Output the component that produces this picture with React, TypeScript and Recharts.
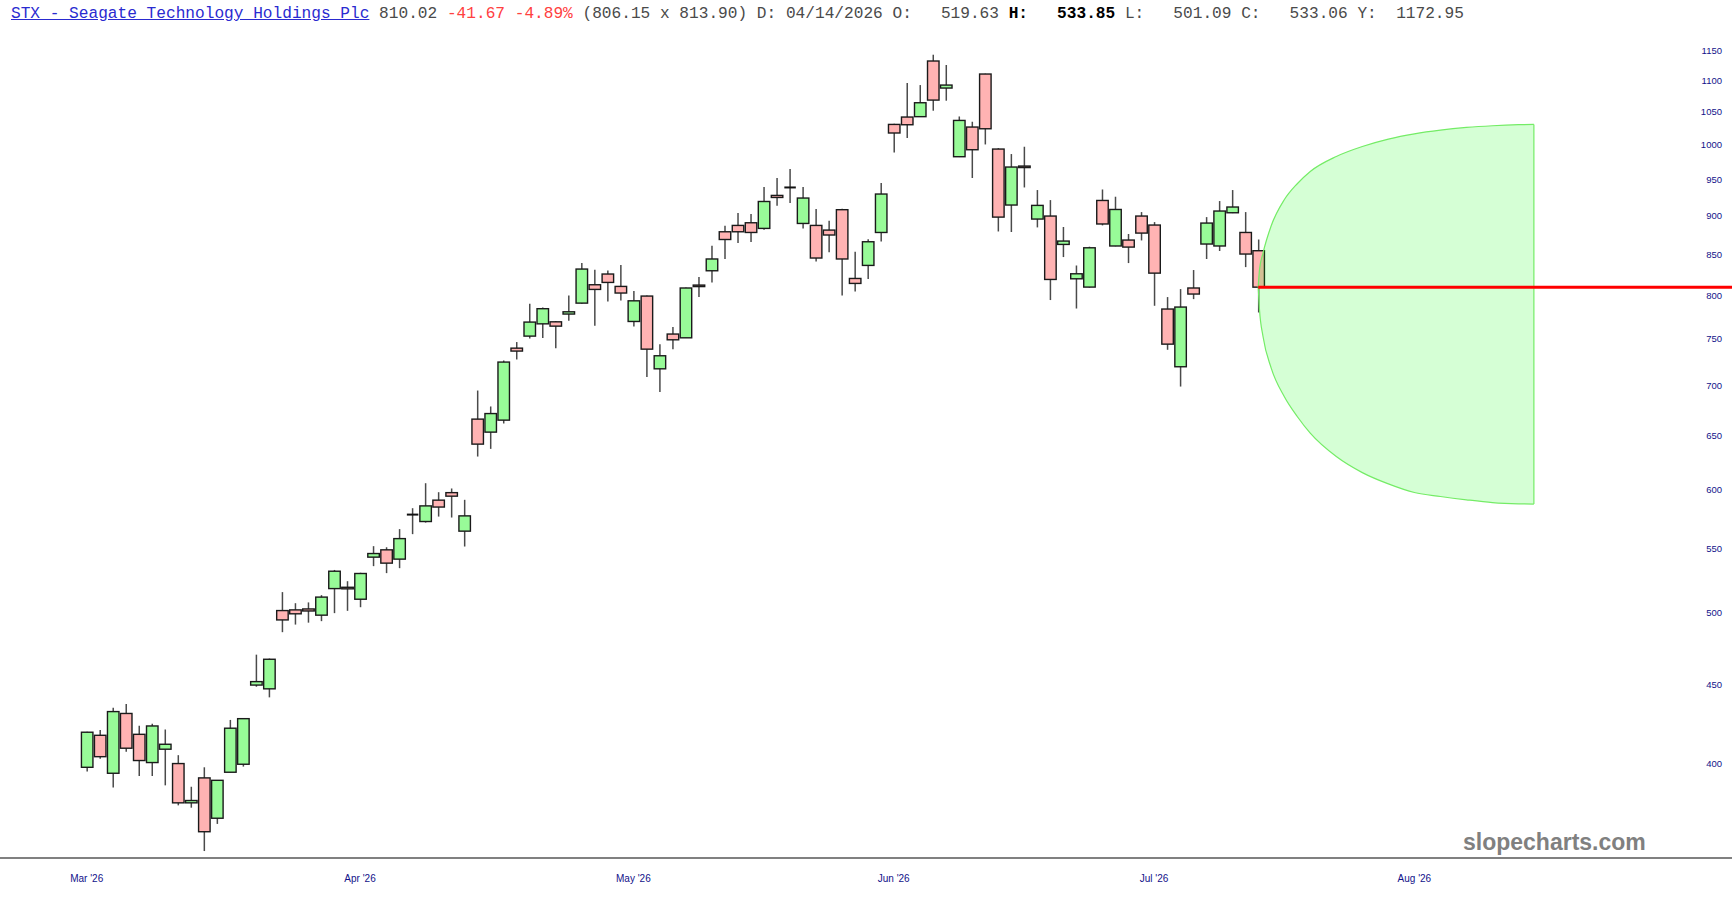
import { ComposedChart, Bar, Area, XAxis, YAxis, ReferenceLine } from "recharts";

// daily candles, Mar '26 .. mid Jul '26 (index = trading day)
const opens = [
  398.0, 417.3, 394.5, 431.0, 417.9, 400.8, 408.8, 400.2, 377.6, 391.8,
  369.1, 395.1, 399.8, 449.5, 447.0, 501.9, 502.4, 503.1, 498.5, 518.5,
  519.5, 510.4, 543.2, 549.1, 541.6, 578.5, 572.6, 591.0, 597.6, 564.5,
  666.3, 653.6, 665.3, 740.1, 753.4, 767.2, 769.5, 778.4, 791.1, 812.9,
  825.9, 810.9, 769.9, 799.4, 717.8, 755.7, 751.5, 812.5, 829.9, 879.2,
  887.5, 891.0, 883.6, 927.8, 938.8, 890.1, 887.5, 881.4, 908.4, 820.5,
  836.5, 878.3, 1030.6, 1041.9, 1042.5, 1132.0, 1087.6, 982.5, 1026.6, 1110.4,
  993.7, 914.7, 969.0, 895.9, 899.9, 862.9, 820.1, 810.1, 920.9, 860.9,
  868.5, 899.9, 888.0, 784.2, 720.0, 809.0, 863.4, 860.9, 904.3, 878.3,
  854.9,
];
const highs = [
  419.5, 420.6, 434.7, 437.1, 423.3, 424.5, 420.9, 405.2, 386.7, 398.0,
  390.6, 426.9, 427.9, 470.2, 467.5, 515.8, 507.4, 508.0, 513.5, 533.0,
  524.2, 530.8, 552.1, 551.2, 566.2, 584.0, 606.0, 598.0, 601.3, 591.3,
  695.1, 678.9, 726.7, 746.8, 790.3, 786.0, 770.5, 800.1, 839.4, 831.2,
  830.3, 837.0, 805.4, 800.0, 744.5, 763.5, 809.5, 822.2, 861.2, 887.1,
  903.9, 902.6, 939.3, 952.0, 964.7, 939.3, 909.3, 893.7, 909.8, 853.6,
  869.5, 945.0, 1031.5, 1095.7, 1092.4, 1142.6, 1125.3, 1042.8, 1034.7, 1111.0,
  995.0, 986.4, 997.1, 935.2, 921.4, 885.4, 836.4, 860.0, 936.0, 926.0,
  876.3, 905.2, 891.9, 798.2, 807.7, 830.8, 898.5, 920.1, 935.2, 905.2,
  869.2,
];
const lows = [
  395.5, 403.1, 386.3, 407.3, 392.9, 392.9, 387.5, 376.2, 374.9, 351.6,
  366.0, 395.1, 398.4, 448.4, 441.4, 486.1, 491.6, 493.0, 494.1, 500.0,
  501.7, 504.4, 536.0, 530.5, 534.4, 562.0, 571.7, 576.8, 576.0, 551.8,
  630.4, 637.6, 662.0, 727.8, 750.8, 751.2, 740.1, 770.6, 790.3, 765.0,
  793.0, 794.2, 764.2, 709.1, 693.5, 739.0, 751.5, 798.2, 815.7, 844.5,
  864.6, 865.9, 881.8, 913.7, 917.3, 883.6, 841.5, 852.8, 800.1, 804.9,
  819.7, 866.7, 988.8, 1010.1, 1042.0, 1051.7, 1067.4, 982.0, 952.0, 1000.5,
  879.6, 878.9, 938.8, 884.9, 794.7, 846.9, 784.8, 809.5, 887.5, 860.5,
  839.4, 868.0, 788.0, 738.3, 699.2, 795.8, 844.5, 854.5, 903.8, 834.4,
  780.2,
];
const closes = [
  419.2, 404.3, 432.2, 409.4, 402.0, 423.1, 411.8, 377.6, 378.9, 361.8,
  390.4, 421.7, 427.7, 451.8, 467.0, 495.0, 499.5, 501.6, 512.0, 532.0,
  518.3, 530.2, 546.1, 538.4, 558.3, 578.5, 586.0, 585.0, 594.5, 577.4,
  642.1, 671.8, 725.0, 736.9, 769.2, 784.6, 764.6, 781.0, 832.0, 807.3,
  815.7, 803.0, 793.8, 739.0, 731.8, 749.3, 809.0, 811.0, 844.5, 869.2,
  879.2, 878.3, 919.5, 925.0, 938.8, 924.2, 845.7, 875.0, 844.5, 814.5,
  866.3, 929.7, 1017.6, 1030.1, 1064.2, 1068.4, 1092.4, 1036.7, 992.7, 1024.0,
  898.5, 967.6, 967.0, 914.2, 819.3, 867.2, 826.2, 858.6, 889.4, 908.7,
  859.5, 877.5, 827.0, 744.5, 786.5, 801.8, 890.6, 906.6, 912.0, 850.7,
  810.02,
];

// projection cone (x in trading days)
const coneX = [90, 90.1, 90.37, 91, 92, 93, 94, 96, 98, 100, 102, 104, 106, 108, 110, 111.18];
const coneLow = [810.02, 783.4, 753.0, 718.6, 689.0, 668.9, 652.6, 630.4, 615.6, 605.4, 597.7, 594.2, 591.3, 588.9, 587.8, 587.6];
const coneHigh = [810.02, 831.2, 851.9, 887.1, 921.8, 944.0, 961.3, 982.9, 997.5, 1008.5, 1016.4, 1022.0, 1026.0, 1028.6, 1030.2, 1030.6];

const lastPrice = 810.02;
const monthTicks = [0, 21, 42, 62, 82, 102];
const monthLabels = ["Mar '26", "Apr '26", "May '26", "Jun '26", "Jul '26", "Aug '26"];
const priceTicks = [400, 450, 500, 550, 600, 650, 700, 750, 800, 850, 900, 950, 1000, 1050, 1100, 1150];

const candles = opens.map((o, i) => ({ x: i, o, h: highs[i], l: lows[i], c: closes[i] }));
const cone = coneX.map((x, i) => ({ x, lo: coneLow[i], hi: coneHigh[i] }));

const X_DOMAIN: [number, number] = [-6.66, 126.4];
const GREEN = "#98fb98";
const RED = "#ffb3b3";

function Candle(props: any) {
  const { x, y, width, height, payload } = props;
  if (x == null || y == null || !payload) return null;
  const { o, h, l, c } = payload;
  const cx = x + width / 2;
  const span = Math.log(h) - Math.log(l);
  const yOf = (v: number) => (span > 0 ? y + ((Math.log(h) - Math.log(v)) / span) * height : y);
  const top = yOf(Math.max(o, c));
  const bot = yOf(Math.min(o, c));
  const bw = 11.5;
  return (
    <g>
      <line x1={cx} x2={cx} y1={y} y2={y + height} stroke="#4a4a4a" strokeWidth={1.5} />
      {o === c ? (
        <line x1={cx - bw / 2} x2={cx + bw / 2} y1={top} y2={top} stroke="#111" strokeWidth={2} />
      ) : (
        <rect
          x={cx - bw / 2}
          y={top}
          width={bw}
          height={Math.max(bot - top, 1.5)}
          fill={c > o ? GREEN : RED}
          stroke="#1a1a1a"
          strokeWidth={1.4}
        />
      )}
    </g>
  );
}

function PriceTick(props: any) {
  const { x, y, payload } = props;
  return (
    <text x={x - 10} y={y} dy="0.35em" textAnchor="end" fontSize={9.5} fill="#12128a" fontFamily="'Liberation Sans', Arial, sans-serif">
      {payload.value}
    </text>
  );
}

export default function App() {
  return (
    <div style={{ position: "absolute", left: 0, top: 0, width: 1733, height: 900, background: "#fff" }}>
      <div
        style={{
          position: "absolute",
          left: 11,
          top: 4,
          fontFamily: "'Liberation Mono', 'Courier New', monospace",
          fontSize: 16.15,
          lineHeight: "20px",
          whiteSpace: "pre",
          color: "#4a4a4a",
        }}
      >
        <span style={{ color: "#2a2ad0", textDecoration: "underline" }}>STX - Seagate Technology Holdings Plc</span>
        {" 810.02 "}
        <span style={{ color: "#ff4040" }}>-41.67 -4.89%</span>
        {" (806.15 x 813.90) D: 04/14/2026 O:   519.63 "}
        <b style={{ color: "#000" }}>H:   533.85</b>
        {" L:   501.09 C:   533.06 Y:  1172.95"}
      </div>

      <ComposedChart data={candles} width={1733} height={900} margin={{ top: 37, right: 0, bottom: 0, left: 0 }}>
        <XAxis
          dataKey="x"
          type="number"
          domain={X_DOMAIN}
          allowDataOverflow
          ticks={monthTicks}
          tickFormatter={(v: number) => monthLabels[monthTicks.indexOf(v)] ?? ""}
          height={42}
          tickLine={false}
          tickMargin={11}
          axisLine={{ stroke: "#808080", strokeWidth: 2 }}
          tick={{ fontSize: 10, fill: "#12128a", fontFamily: "'Liberation Sans', Arial, sans-serif" }}
        />
        <XAxis xAxisId="cone" dataKey="x" type="number" domain={X_DOMAIN} allowDataOverflow hide />
        <YAxis
          orientation="right"
          scale="log"
          domain={[348, 1172.95]}
          allowDataOverflow
          ticks={priceTicks}
          width={1}
          axisLine={false}
          tickLine={false}
          tickSize={0}
          tickMargin={0}
          tick={(p: any) => <PriceTick {...p} />}
          interval={0}
        />
        <Bar
          dataKey={(d: any) => [d.l, d.h]}
          barSize={12}
          shape={(p: any) => <Candle {...p} />}
          isAnimationActive={false}
        />
        <Area
          xAxisId="cone"
          data={cone}
          dataKey={(d: any) => [d.lo, d.hi]}
          type="monotone"
          stroke="#74ec66"
          strokeWidth={1.2}
          fill="#00ff00"
          fillOpacity={0.165}
          isAnimationActive={false}
          zIndex={350}
        />
        <ReferenceLine
          xAxisId="cone"
          segment={[
            { x: coneX[coneX.length - 1], y: coneLow[coneLow.length - 1] },
            { x: coneX[coneX.length - 1], y: coneHigh[coneHigh.length - 1] },
          ]}
          stroke="#74ec66"
          strokeWidth={1.2}
        />
        <ReferenceLine
          segment={[
            { x: candles.length - 1, y: lastPrice },
            { x: X_DOMAIN[1], y: lastPrice },
          ]}
          stroke="#ff0000"
          strokeWidth={3}
          zIndex={1500}
        />
      </ComposedChart>

      <div
        style={{
          position: "absolute",
          left: 1463,
          top: 831,
          fontFamily: "'Liberation Sans', Arial, sans-serif",
          fontWeight: "bold",
          fontSize: 23,
          lineHeight: "23px",
          color: "#808080",
        }}
      >
        slopecharts.com
      </div>
    </div>
  );
}
